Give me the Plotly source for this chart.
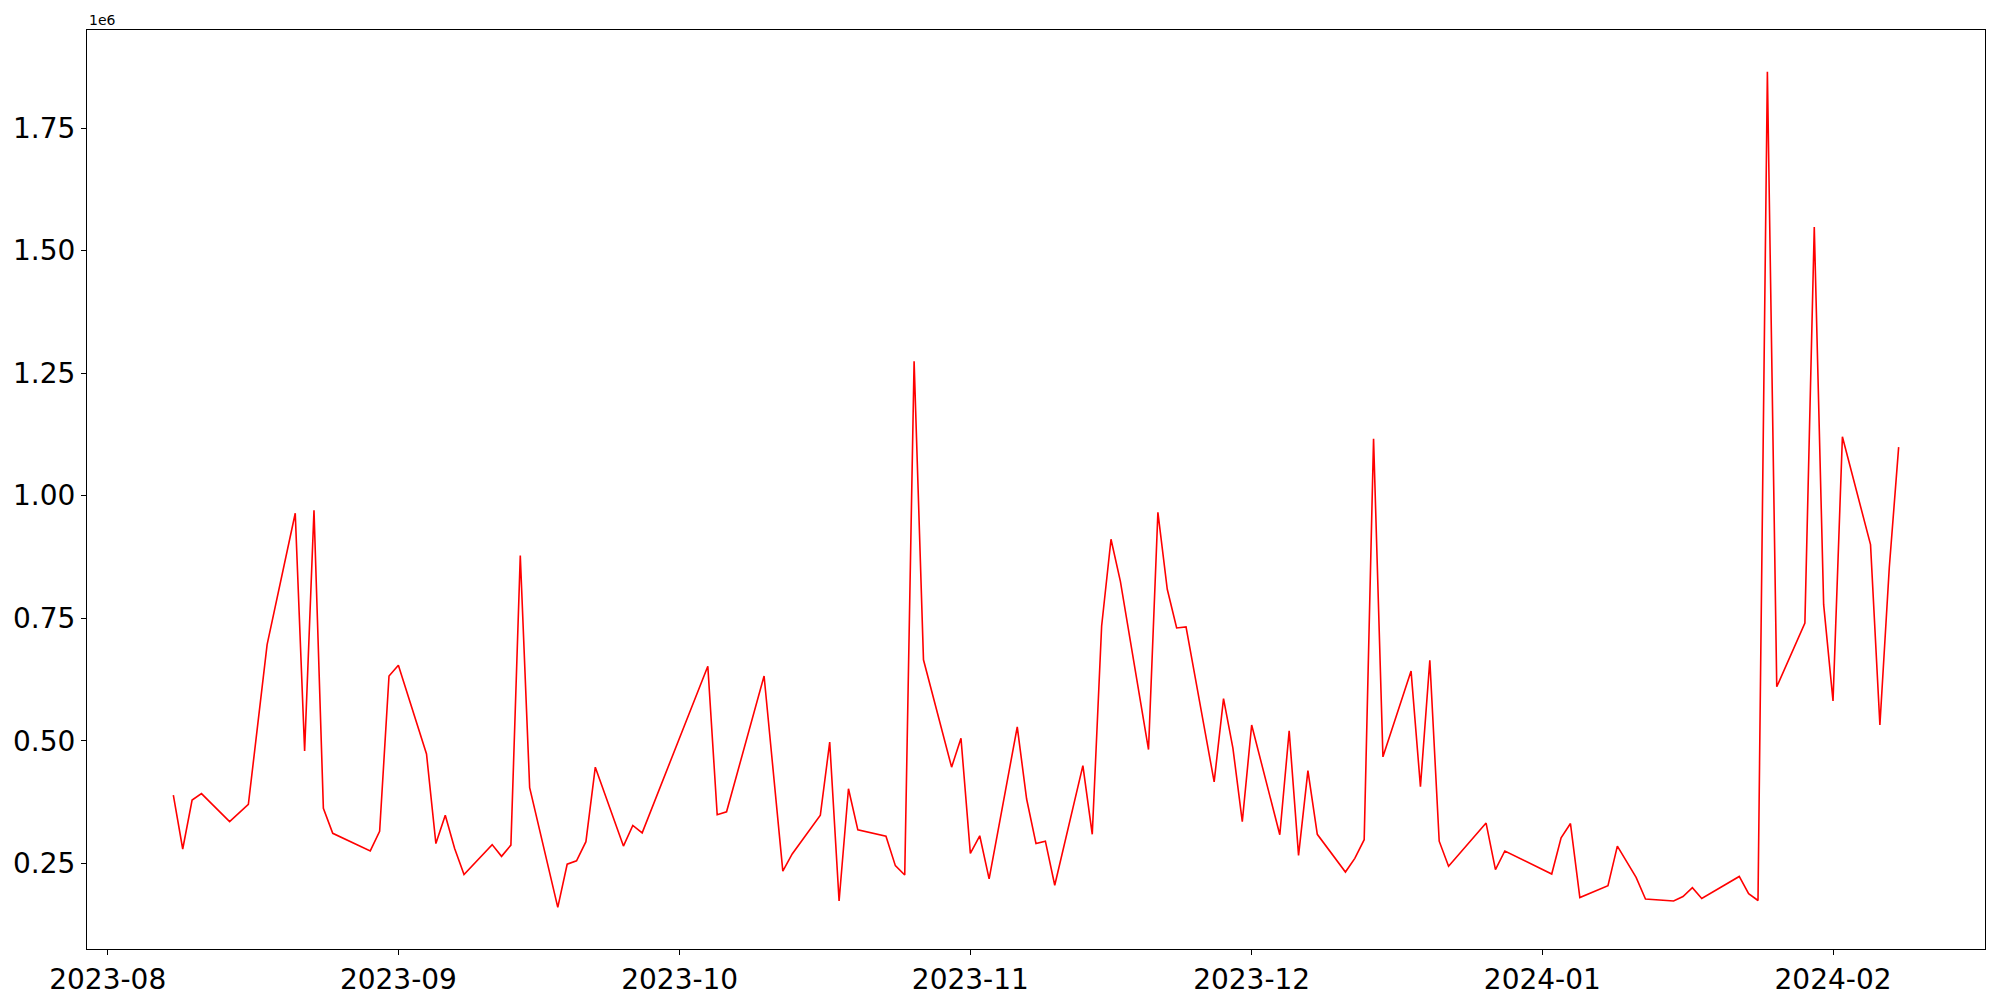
import plotly.graph_objects as go

dates = [
    "2023-08-08", "2023-08-09", "2023-08-10", "2023-08-11", "2023-08-14", "2023-08-16",
    "2023-08-18", "2023-08-21", "2023-08-22", "2023-08-23", "2023-08-24", "2023-08-25",
    "2023-08-29", "2023-08-30", "2023-08-31", "2023-09-01", "2023-09-04", "2023-09-05",
    "2023-09-06", "2023-09-07", "2023-09-08", "2023-09-11", "2023-09-12", "2023-09-13",
    "2023-09-14", "2023-09-15", "2023-09-18", "2023-09-19", "2023-09-20", "2023-09-21",
    "2023-09-22", "2023-09-25", "2023-09-26", "2023-09-27", "2023-10-04", "2023-10-05",
    "2023-10-06", "2023-10-10", "2023-10-12", "2023-10-13", "2023-10-16", "2023-10-17",
    "2023-10-18", "2023-10-19", "2023-10-20", "2023-10-23", "2023-10-24", "2023-10-25",
    "2023-10-26", "2023-10-27", "2023-10-30", "2023-10-31", "2023-11-01", "2023-11-02",
    "2023-11-03", "2023-11-06", "2023-11-07", "2023-11-08", "2023-11-09", "2023-11-10",
    "2023-11-13", "2023-11-14", "2023-11-15", "2023-11-16", "2023-11-17", "2023-11-20",
    "2023-11-21", "2023-11-22", "2023-11-23", "2023-11-24", "2023-11-27", "2023-11-28",
    "2023-11-29", "2023-11-30", "2023-12-01", "2023-12-04", "2023-12-05", "2023-12-06",
    "2023-12-07", "2023-12-08", "2023-12-11", "2023-12-12", "2023-12-13", "2023-12-14",
    "2023-12-15", "2023-12-18", "2023-12-19", "2023-12-20", "2023-12-21", "2023-12-22",
    "2023-12-26", "2023-12-27", "2023-12-28", "2024-01-02", "2024-01-03", "2024-01-04",
    "2024-01-05", "2024-01-08", "2024-01-09", "2024-01-11", "2024-01-12", "2024-01-15",
    "2024-01-16", "2024-01-17", "2024-01-18", "2024-01-22", "2024-01-23", "2024-01-24",
    "2024-01-25", "2024-01-26", "2024-01-29", "2024-01-30", "2024-01-31", "2024-02-01",
    "2024-02-02", "2024-02-05", "2024-02-06", "2024-02-07", "2024-02-08",
]

values = [
    389000, 279000, 379000, 392000, 335000, 370000,
    696000, 964000, 479000, 970000, 362000, 311000,
    275000, 315000, 632000, 654000, 473000, 290000,
    348000, 280000, 227000, 288000, 264000, 287000,
    878000, 404000, 160000, 248000, 255000, 294000,
    446000, 285000, 327000, 312000, 652000, 349000,
    355000, 632000, 234000, 269000, 348000, 497000,
    173000, 402000, 318000, 305000, 245000, 226000,
    1274000, 665000, 446000, 505000, 270000, 306000,
    218000, 528000, 381000, 290000, 295000, 205000,
    449000, 309000, 734000, 911000, 825000, 482000,
    966000, 809000, 730000, 732000, 416000, 586000,
    485000, 335000, 532000, 308000, 520000, 266000,
    439000, 309000, 232000, 260000, 298000, 1116000,
    467000, 642000, 406000, 664000, 295000, 244000,
    332000, 237000, 275000, 228000, 302000, 331000,
    180000, 204000, 285000, 221000, 177000, 173000,
    182000, 200000, 178000, 223000, 188000, 174000,
    1865000, 610000, 740000, 1548000, 778000, 581000,
    1120000, 900000, 532000, 853000, 1099000,
]

y_tick_vals = [250000, 500000, 750000, 1000000, 1250000, 1500000, 1750000]
y_tick_text = ["0.25", "0.50", "0.75", "1.00", "1.25", "1.50", "1.75"]
x_tick_vals = ["2023-08-01", "2023-09-01", "2023-10-01", "2023-11-01",
               "2023-12-01", "2024-01-01", "2024-02-01"]
x_tick_text = ["2023-08", "2023-09", "2023-10", "2023-11", "2023-12", "2024-01", "2024-02"]

FONT = "DejaVu Sans"

fig = go.Figure()
fig.add_trace(go.Scatter(
    x=dates, y=values, mode="lines",
    line=dict(color="red", width=1.6),
    showlegend=False,
))

fig.update_layout(
    width=2000, height=1000,
    margin=dict(l=87, r=15, t=30, b=51, autoexpand=False),
    paper_bgcolor="white", plot_bgcolor="white",
    font=dict(family=FONT, color="black", size=28),
    xaxis=dict(
        type="date", automargin=False,
        range=["2023-07-29 19:00", "2024-02-17 05:00"],
        tickvals=x_tick_vals, ticktext=x_tick_text,
        ticks="outside", ticklen=5, tickwidth=1.1, tickcolor="black",
        showgrid=False, zeroline=False,
        showline=True, linecolor="black", linewidth=1.1, mirror=True,
        tickfont=dict(family=FONT, size=28, color="black"),
    ),
    yaxis=dict(
        automargin=False,
        range=[75000, 1950000],
        tickvals=y_tick_vals, ticktext=y_tick_text,
        ticks="outside", ticklen=5, tickwidth=1.1, tickcolor="black",
        showgrid=False, zeroline=False,
        showline=True, linecolor="black", linewidth=1.1, mirror=True,
        tickfont=dict(family=FONT, size=28, color="black"),
    ),
    annotations=[dict(
        text="1e6", xref="paper", yref="paper", x=0, y=1,
        xanchor="left", yanchor="bottom", showarrow=False,
        font=dict(family=FONT, size=14, color="black"),
    )],
)

fig.write_html(
    "out.html",
    config={"displayModeBar": False},
    post_script="document.body.style.margin='0';document.body.style.overflow='hidden';",
)
